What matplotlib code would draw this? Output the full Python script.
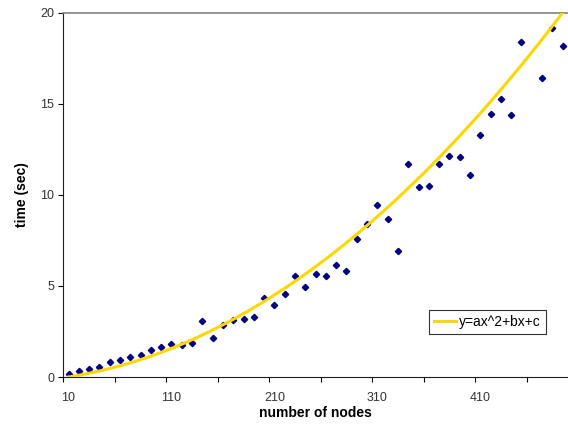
import numpy as np
import matplotlib
matplotlib.use("Agg")
import matplotlib.pyplot as plt

plt.rcParams["font.family"] = ["Liberation Sans", "DejaVu Sans"]

# number of nodes (category 460 has no visible point)
nodes = [10, 20, 30, 40, 50, 60, 70, 80, 90, 100,
         110, 120, 130, 140, 150, 160, 170, 180, 190, 200,
         210, 220, 230, 240, 250, 260, 270, 280, 290, 300,
         310, 320, 330, 340, 350, 360, 370, 380, 390, 400,
         410, 420, 430, 440, 450, 470, 480, 490]
times = [0.16, 0.35, 0.44, 0.55, 0.84, 0.95, 1.08, 1.21, 1.50, 1.65,
         1.81, 1.76, 1.87, 3.08, 2.16, 2.87, 3.13, 3.19, 3.28, 4.36,
         3.96, 4.58, 5.57, 4.93, 5.66, 5.53, 6.17, 5.82, 7.58, 8.41,
         9.43, 8.70, 6.92, 11.69, 10.42, 10.51, 11.69, 12.14, 12.09, 11.12,
         13.28, 14.43, 15.26, 14.38, 18.37, 16.43, 19.19, 18.17]
x_labels = [10, 110, 210, 310, 410]
y_ticks = [0, 5, 10, 15, 20]

# trendline coefficients
a, b, c = 6.84e-5, 0.00747, -0.08

x = np.array(nodes)
y = np.array(times)
xs = np.linspace(10, 490, 200)
ys = np.polyval([a, b, c], xs)

fig = plt.figure(figsize=(5.68, 4.24), dpi=100)
ax = fig.add_axes([0.1116, 0.1108, 0.888, 0.859])

ax.plot(x, y, linestyle="none", marker="D", markersize=3.2,
        color="#000080", zorder=2)
ax.plot(xs, ys, color="#FFD700", linewidth=2.2, label="y=ax^2+bx+c", zorder=3)

ax.set_xlim(5, 495)
ax.set_ylim(0, 20)

ax.set_xticks(np.arange(5, 495, 50))
ax.set_xticklabels([])
ax.set_xticks(x_labels, minor=True)
ax.set_xticklabels([str(v) for v in x_labels], minor=True)
ax.tick_params(axis="x", which="major", direction="out", length=3.6, width=0.8)
ax.tick_params(axis="x", which="minor", length=0, pad=11, labelsize=9,
               labelcolor="#333333")
ax.set_yticks(y_ticks)
ax.tick_params(axis="y", direction="out", length=3.6, width=0.8, pad=3,
               labelsize=9, labelcolor="#333333")

ax.spines["right"].set_visible(False)
ax.spines["top"].set_color("#808080")
ax.spines["top"].set_linewidth(1.2)
ax.spines["left"].set_color("#202020")
ax.spines["bottom"].set_color("#202020")

ax.set_xlabel("number of nodes", fontsize=10, fontweight="bold", labelpad=1)
ax.set_ylabel("time (sec)", fontsize=10, fontweight="bold", labelpad=8)

leg = ax.legend(loc="lower right", bbox_to_anchor=(0.956, 0.118), fontsize=10,
                fancybox=False, framealpha=1, edgecolor="#333333",
                handlelength=1.6, handletextpad=0.2, borderpad=0.35,
                borderaxespad=0)
leg.get_frame().set_linewidth(0.8)

fig.savefig("out.png", dpi=100)
